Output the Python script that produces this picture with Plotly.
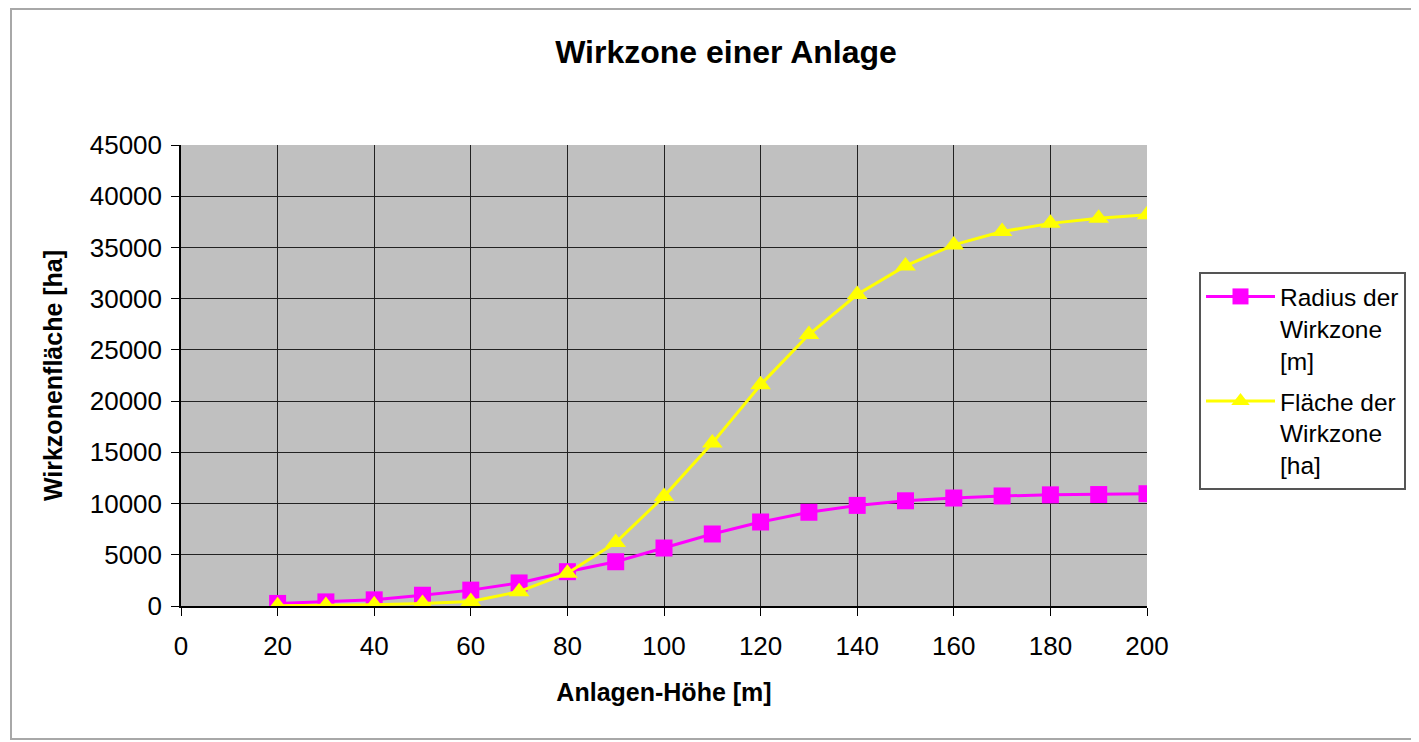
import plotly.graph_objects as go

hoehe = [20, 30, 40, 50, 60, 70, 80, 90, 100, 110, 120, 130, 140, 150, 160, 170, 180, 190, 200]
radius = [250, 400, 600, 1050, 1550, 2250, 3350, 4320, 5660, 7030, 8200, 9150, 9820, 10270, 10540, 10740, 10850, 10880, 10960]
flaeche = [20, 50, 120, 250, 450, 1400, 3200, 6200, 10700, 15900, 21600, 26500, 30400, 33200, 35250, 36550, 37350, 37850, 38200]

names = ["Radius der<br>Wirkzone<br>[m]", "Fläche der<br>Wirkzone<br>[ha]"]
x_ticks = list(range(0, 201, 20))
y_ticks = list(range(0, 45001, 5000))

# page body has an 8px margin; figure sized so page = 1419x742
OFF = 8
W, H = 1419 - OFF, 742 - OFF
FONT = "Liberation Sans, Arial, sans-serif"


def px(X):
    return (X - OFF) / W


def py(Y):
    return 1 - (Y - OFF) / H


fig = go.Figure()
fig.add_trace(go.Scatter(
    x=hoehe, y=radius, name=names[0], mode="lines+markers", legendgroup="r",
    line=dict(color="#FF00FF", width=3),
    marker=dict(symbol="square", size=17, color="#FF00FF"),
))
fig.add_trace(go.Scatter(
    x=hoehe, y=flaeche, name=names[1], mode="lines+markers", legendgroup="f",
    line=dict(color="#FFFF00", width=3),
    marker=dict(symbol="triangle-up", size=18, color="#FFFF00"),
))

fig.update_layout(
    width=W, height=H,
    margin=dict(l=0, r=0, t=0, b=0, autoexpand=False),
    paper_bgcolor="white",
    plot_bgcolor="#C0C0C0",
    font=dict(family=FONT, size=26, color="black"),
    title=dict(text="<b>Wirkzone einer Anlage</b>", x=px((540 + 912) / 2), xanchor="center",
               y=py(52), yanchor="middle", font=dict(size=32, family=FONT)),
    xaxis=dict(
        domain=[px(181), px(1147)], range=[0, 200], tickvals=x_ticks, automargin=False,
        showgrid=True, gridcolor="#222222", gridwidth=1,
        showline=True, linecolor="black", linewidth=1.5,
        ticks="outside", ticklen=8, tickcolor="black", ticklabelstandoff=8,
        tickfont=dict(size=26), zeroline=False,
        title=dict(text="<b>Anlagen-Höhe [m]</b>", font=dict(size=25), standoff=24),
    ),
    yaxis=dict(
        domain=[py(606), py(145)], range=[0, 45000], tickvals=y_ticks, tickformat="d", automargin=False,
        showgrid=True, gridcolor="#222222", gridwidth=1,
        showline=True, linecolor="black", linewidth=1.5,
        ticks="outside", ticklen=8, tickcolor="black", ticklabelstandoff=4,
        tickfont=dict(size=26), zeroline=False,
        title=dict(text="<b>Wirkzonenfläche [ha]</b>", font=dict(size=25), standoff=20),
    ),
    legend=dict(
        x=px(1199), xanchor="left", y=py(272), yanchor="top",
        bgcolor="white", bordercolor="#555555", borderwidth=2,
        font=dict(size=24.5), valign="top", itemwidth=69,
        traceorder="grouped", tracegroupgap=6,
    ),
    showlegend=True,
)

fig.add_shape(type="rect", xref="paper", yref="paper",
              x0=px(11), x1=px(1413), y0=py(739), y1=py(9),
              line=dict(color="#A8A8A8", width=2), layer="below")

fig.write_html("out.html")
